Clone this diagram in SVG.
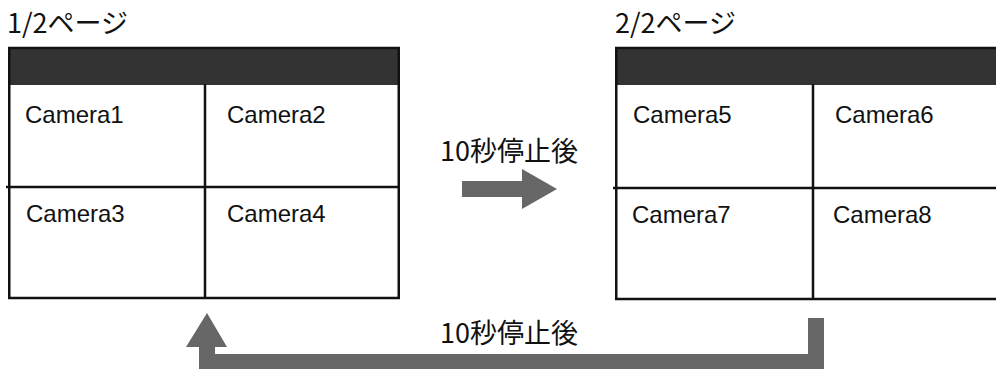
<svg xmlns="http://www.w3.org/2000/svg" width="996" height="369" viewBox="0 0 996 369">
<style>
.title{font-family:"Noto Sans CJK JP","Noto Sans",sans-serif;font-size:27px;fill:#111}
.cam{font-family:"Liberation Sans",Arial,sans-serif;font-size:24px;fill:#111}
.hdr{fill:#333}
.frame{fill:none;stroke:#111;stroke-width:2.5}
.arrow{fill:#676767}
</style>
<rect width="996" height="369" fill="#fff"/>
<g id="page1">
<text class="title" x="7" y="33">1/2ページ</text>
<rect class="hdr" x="8" y="47" width="392" height="38"/>
<rect class="frame" x="9.25" y="48" width="389.5" height="250"/>
<line class="frame" x1="205" y1="84" x2="205" y2="298"/>
<line class="frame" x1="6" y1="187" x2="399" y2="187"/>
<g id="cam1"><text class="cam" x="25" y="123">Camera1</text></g>
<g id="cam2"><text class="cam" x="227" y="123">Camera2</text></g>
<g id="cam3"><text class="cam" x="26" y="222">Camera3</text></g>
<g id="cam4"><text class="cam" x="227" y="222">Camera4</text></g>
</g>
<g id="page2">
<text class="title" x="615" y="33">2/2ページ</text>
<rect class="hdr" x="615" y="47" width="385" height="38"/>
<rect class="frame" x="616.25" y="48" width="400" height="251"/>
<line class="frame" x1="813" y1="84" x2="813" y2="299"/>
<line class="frame" x1="613" y1="188" x2="1000" y2="188"/>
<g id="cam5"><text class="cam" x="633" y="123">Camera5</text></g>
<g id="cam6"><text class="cam" x="835" y="123">Camera6</text></g>
<g id="cam7"><text class="cam" x="632" y="223">Camera7</text></g>
<g id="cam8"><text class="cam" x="833" y="223">Camera8</text></g>
</g>
<g id="connectors">
<polygon class="arrow" points="462,181 522,181 522,169 557,189 522,209 522,197 462,197"/>
<text class="title" x="440" y="161">10秒停止後</text>
<path class="arrow" d="M808,318 H824 V370 H199 V347 H186 L207,313 L227,347 H215 V354 H808 Z"/>
<text class="title" x="440" y="343">10秒停止後</text>
</g>
</svg>
